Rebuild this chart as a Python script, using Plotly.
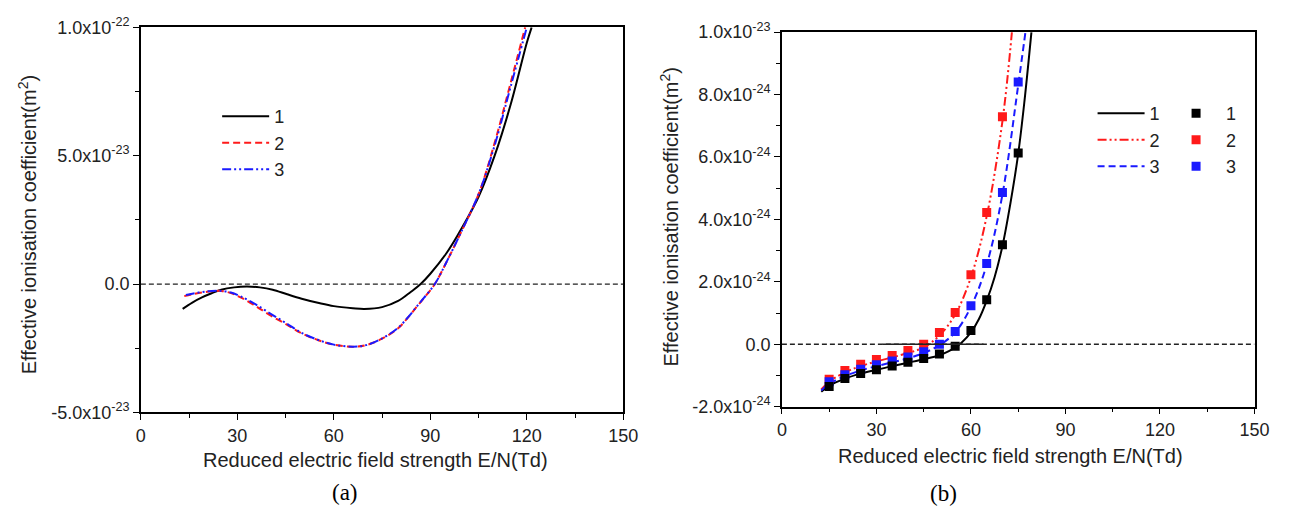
import plotly.graph_objects as go

# ---------------- Panel (a) data (y in units of 1e-23 m^2) ----------------
a_scale = 1e-23
a1_x = [13, 16, 19, 22, 25, 29, 33, 37, 41, 45.5, 50, 55.7, 60, 65.9, 69.5, 75, 80, 84, 87, 90, 95, 98.5, 105, 110, 115, 120, 121.5]
a1_y = [-0.97, -0.72, -0.52, -0.36, -0.22, -0.13, -0.10, -0.13, -0.22, -0.40, -0.57, -0.75, -0.86, -0.94, -0.97, -0.90, -0.66, -0.30, 0.0, 0.40, 1.20, 1.90, 3.40, 5.00, 7.00, 9.40, 10.0]
a2_x = [13.5, 16, 19, 22, 25, 28, 31, 35, 40, 45.5, 50, 55, 60, 66, 70, 75, 80, 83.3, 86, 88, 91.4, 95, 99.1, 105, 110, 115, 119.5]
a2_y = [-0.47, -0.40, -0.33, -0.28, -0.27, -0.35, -0.52, -0.80, -1.20, -1.59, -1.92, -2.18, -2.36, -2.44, -2.38, -2.13, -1.72, -1.27, -0.85, -0.55, 0.0, 0.85, 1.90, 3.50, 5.50, 7.85, 10.0]
a3_x = [14, 16, 19, 22, 25, 28, 31, 35, 40, 45.5, 50, 55, 60, 66, 70, 75, 80, 83.3, 86, 88, 91.4, 95, 99.1, 105, 110, 115, 120]
a3_y = [-0.43, -0.38, -0.31, -0.27, -0.27, -0.33, -0.48, -0.74, -1.13, -1.55, -1.90, -2.17, -2.36, -2.44, -2.38, -2.12, -1.70, -1.26, -0.84, -0.54, 0.0, 0.85, 1.90, 3.50, 5.40, 7.70, 10.0]

# ---------------- Panel (b) data (y in units of 1e-24 m^2) ----------------
b_scale = 1e-24
b1_x = [12.5, 15, 20, 25, 30, 35, 40, 45, 50, 53, 55, 57, 60, 62.5, 65, 67.5, 70, 72.5, 75, 77, 79.2]
b1_y = [-1.52, -1.33, -1.10, -0.94, -0.82, -0.70, -0.59, -0.48, -0.35, -0.22, -0.10, 0.05, 0.38, 0.80, 1.40, 2.15, 3.15, 4.50, 6.10, 7.80, 10.0]
b2_x = [12.5, 15, 20, 25, 30, 35, 40, 45, 50, 55, 60, 65, 70, 73]
b2_y = [-1.45, -1.20, -0.90, -0.70, -0.55, -0.42, -0.28, -0.10, 0.28, 0.95, 2.15, 4.10, 7.15, 10.0]
b3_x = [12.5, 15, 20, 25, 30, 35, 40, 45, 50, 55, 60, 65, 70, 75, 77.3]
b3_y = [-1.48, -1.27, -1.02, -0.84, -0.70, -0.58, -0.45, -0.28, -0.03, 0.38, 1.20, 2.55, 4.80, 8.30, 10.0]

m_x = [15, 20, 25, 30, 35, 40, 45, 50, 55, 60, 65, 70, 75]
m1_y = [-1.35, -1.10, -0.94, -0.82, -0.70, -0.58, -0.46, -0.31, -0.06, 0.44, 1.43, 3.19, 6.13]
m2_x = [15, 20, 25, 30, 35, 40, 45, 50, 55, 60, 65, 70]
m2_y = [-1.12, -0.84, -0.64, -0.49, -0.36, -0.20, 0.0, 0.38, 1.02, 2.23, 4.22, 7.29]
m3_y = [-1.20, -0.98, -0.80, -0.66, -0.54, -0.41, -0.24, 0.0, 0.41, 1.23, 2.59, 4.86, 8.40]

labels = ["1", "2", "3"]

a_ticks = [-5e-23, 0, 5e-23, 1e-22]
a_ticktext = ["-5.0x10<sup>-23</sup>", "0.0", "5.0x10<sup>-23</sup>", "1.0x10<sup>-22</sup>"]
b_ticks = [-2e-24, 0, 2e-24, 4e-24, 6e-24, 8e-24, 1e-23]
b_ticktext = ["-2.0x10<sup>-24</sup>", "0.0", "2.0x10<sup>-24</sup>", "4.0x10<sup>-24</sup>",
              "6.0x10<sup>-24</sup>", "8.0x10<sup>-24</sup>", "1.0x10<sup>-23</sup>"]
x_ticks = [0, 30, 60, 90, 120, 150]

BLACK = "#000000"
RED = "#ff1a1a"
BLUE = "#1a1aff"
FONT = "Arial, 'Liberation Sans', sans-serif"
DASHDOTDOT = "9px,3px,2px,3px,2px,3px"

fig = go.Figure()

def sc(vals, s):
    return [v * s for v in vals]

# Panel (a)
fig.add_trace(go.Scatter(x=a1_x, y=sc(a1_y, a_scale), mode="lines", line=dict(color=BLACK, width=2, shape="spline"),
                         name=labels[0], legend="legend", xaxis="x", yaxis="y"))
fig.add_trace(go.Scatter(x=a2_x, y=sc(a2_y, a_scale), mode="lines", line=dict(color=RED, width=2, dash="7px,4px", shape="spline"),
                         name=labels[1], legend="legend", xaxis="x", yaxis="y"))
fig.add_trace(go.Scatter(x=a3_x, y=sc(a3_y, a_scale), mode="lines", line=dict(color=BLUE, width=2, dash=DASHDOTDOT, shape="spline"),
                         name=labels[2], legend="legend", xaxis="x", yaxis="y"))

# Panel (b) lines
fig.add_trace(go.Scatter(x=b1_x, y=sc(b1_y, b_scale), mode="lines", line=dict(color=BLACK, width=2, shape="spline"),
                         name=labels[0], legend="legend2", legendrank=1, xaxis="x2", yaxis="y2"))
fig.add_trace(go.Scatter(x=b2_x, y=sc(b2_y, b_scale), mode="lines", line=dict(color=RED, width=2, dash=DASHDOTDOT, shape="spline"),
                         name=labels[1], legend="legend2", legendrank=2, xaxis="x2", yaxis="y2"))
fig.add_trace(go.Scatter(x=b3_x, y=sc(b3_y, b_scale), mode="lines", line=dict(color=BLUE, width=2, dash="7px,4px", shape="spline"),
                         name=labels[2], legend="legend2", legendrank=3, xaxis="x2", yaxis="y2"))

# Panel (b) markers (red, blue, then black on top)
fig.add_trace(go.Scatter(x=m2_x, y=sc(m2_y, b_scale), mode="markers", marker=dict(symbol="square", size=9, color=RED),
                         name=labels[1], legend="legend3", legendrank=2, xaxis="x2", yaxis="y2"))
fig.add_trace(go.Scatter(x=m_x, y=sc(m3_y, b_scale), mode="markers", marker=dict(symbol="square", size=9, color=BLUE),
                         name=labels[2], legend="legend3", legendrank=3, xaxis="x2", yaxis="y2"))
fig.add_trace(go.Scatter(x=m_x, y=sc(m1_y, b_scale), mode="markers", marker=dict(symbol="square", size=9, color=BLACK),
                         name=labels[0], legend="legend3", legendrank=1, xaxis="x2", yaxis="y2"))

axis_common = dict(showline=True, linecolor="black", linewidth=1.5, mirror=True, showgrid=False, zeroline=False,
                   ticks="outside", ticklen=6, tickwidth=1.3, tickcolor="black",
                   tickfont=dict(family=FONT, size=18, color="#222"))

legend_font = dict(family=FONT, size=18, color="#222")

fig.update_layout(
    width=1298, height=523, margin=dict(l=0, r=0, t=0, b=0),
    paper_bgcolor="white", plot_bgcolor="white", showlegend=True,
    xaxis=dict(domain=[0.1063, 0.4838], range=[0, 150], tickvals=x_ticks, anchor="y",
               minor=dict(tickvals=[15, 45, 75, 105, 135], ticks="outside", ticklen=4, tickcolor="black"), **axis_common),
    yaxis=dict(domain=[0.2008, 0.9694], range=[-5e-23, 1e-22], tickvals=a_ticks, ticktext=a_ticktext, anchor="x",
               minor=dict(tickvals=[-2.5e-23, 2.5e-23, 7.5e-23], ticks="outside", ticklen=4, tickcolor="black"), **axis_common),
    xaxis2=dict(domain=[0.6079, 0.9777], range=[0, 150], tickvals=x_ticks, anchor="y2",
                minor=dict(tickvals=[15, 45, 75, 105, 135], ticks="outside", ticklen=4, tickcolor="black"), **axis_common),
    yaxis2=dict(domain=[0.2122, 0.9598], range=[-2e-24, 1e-23], tickvals=b_ticks, ticktext=b_ticktext, anchor="x2",
                minor=dict(tickvals=[-1e-24, 1e-24, 3e-24, 5e-24, 7e-24, 9e-24], ticks="outside", ticklen=4, tickcolor="black"),
                **axis_common),
    legend=dict(x=0.166, y=0.828, xanchor="left", yanchor="top", bgcolor="rgba(0,0,0,0)", itemwidth=47,
                font=legend_font, tracegroupgap=0),
    legend2=dict(x=0.851, y=0.834, xanchor="left", yanchor="top", bgcolor="rgba(0,0,0,0)", itemwidth=47,
                 font=legend_font, tracegroupgap=0),
    legend3=dict(x=0.9085, y=0.834, xanchor="left", yanchor="top", bgcolor="rgba(0,0,0,0)", itemwidth=50,
                 font=legend_font, tracegroupgap=0),
)

# zero reference lines
fig.add_shape(type="line", xref="x", yref="y", x0=0, x1=150, y0=0, y1=0, line=dict(color="#222", width=1.3, dash="5px,3px"))
fig.add_shape(type="line", xref="x2", yref="y2", x0=0, x1=150, y0=0, y1=0, line=dict(color="#222", width=1.3, dash="5px,3px"))
fig.add_shape(type="line", xref="x2", yref="y2", x0=32, x1=64, y0=0, y1=0, line=dict(color="#222", width=1.3))

title_font = dict(family=FONT, size=20, color="#222")
xt = "Reduced electric field strength E/N(Td)"
yt = "Effective ionisation coefficient(m<sup>2</sup>)"
fig.add_annotation(text=xt, x=0.2897, y=0.105, xref="paper", yref="paper", showarrow=False, font=title_font,
                   xanchor="center", yanchor="middle")
fig.add_annotation(text=xt, x=0.7866, y=0.1147, xref="paper", yref="paper", showarrow=False, font=title_font,
                   xanchor="center", yanchor="middle")
fig.add_annotation(text=yt, x=23 / 1298, y=0.5755, xref="paper", yref="paper", showarrow=False, font=title_font,
                   textangle=-90, xanchor="center", yanchor="middle")
fig.add_annotation(text=yt, x=675 / 1298, y=0.591, xref="paper", yref="paper", showarrow=False, font=title_font,
                   textangle=-90, xanchor="center", yanchor="middle")
serif = dict(family="'Liberation Serif', 'Times New Roman', serif", size=23, color="black")
fig.add_annotation(text="(a)", x=345 / 1298, y=1 - 502 / 523, xref="paper", yref="paper", showarrow=False, font=serif,
                   xanchor="center", yanchor="middle")
fig.add_annotation(text="(b)", x=953 / 1298, y=1 - 503 / 523, xref="paper", yref="paper", showarrow=False, font=serif,
                   xanchor="center", yanchor="middle")

fig.write_html("out.html")
